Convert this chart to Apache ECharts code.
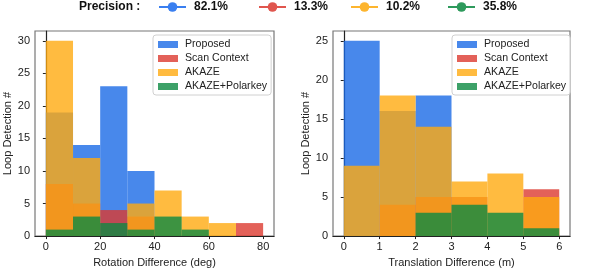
<!DOCTYPE html>
<html><head><meta charset="utf-8">
<script src="https://cdn.jsdelivr.net/npm/echarts@6/dist/echarts.min.js"></script>
<style>html,body{margin:0;padding:0;background:#fff}#c{width:598px;height:273px}</style>
</head><body><div id="c"></div>
<script>
// ---- data ----
var seriesNames = ['Proposed', 'Scan Context', 'AKAZE', 'AKAZE+Polarkey'];
var precisionLabels = ['82.1%', '13.3%', '10.2%', '35.8%'];
var rotBins = [0, 10, 20, 30, 40, 50, 60, 70, 80];
var rotProposed = [19, 14, 23, 10, 0, 0, 0, 0];
var rotScan = [8, 5, 4, 3, 0, 0, 0, 2];
var rotAkaze = [30, 12, 0, 5, 7, 3, 2, 0];
var rotPolar = [1, 3, 2, 1, 3, 1, 0, 0];
var transBins = [0, 1, 2, 3, 4, 5, 6];
var transProposed = [25, 16, 18, 0, 0, 0];
var transScan = [0, 4, 5, 5, 0, 6];
var transAkaze = [9, 18, 14, 7, 8, 5];
var transPolar = [0, 0, 3, 4, 3, 1];
var rotTicks = [0, 20, 40, 60, 80];
var rotYTicks = [0, 5, 10, 15, 20, 25, 30];
var transTicks = [0, 1, 2, 3, 4, 5, 6];
var transYTicks = [0, 5, 10, 15, 20, 25];

// ---- style ----
var colors = ['#1a6ae6', '#dc3a30', '#ffaa10', '#0c8a42'];
var lineColors = ['#3a7ff0', '#e0564e', '#fdb52e', '#2e9a5c'];
var precisionLeft = [158, 258, 350, 447];
var FONT = 'Liberation Sans';

function toData(bins, vals) {
  return vals.map(function (v, i) { return [bins[i], v, bins[i + 1]]; });
}
function renderRect(params, api) {
  var v = api.value(1);
  if (!v) return null;
  var p0 = api.coord([api.value(0), 0]);
  var p1 = api.coord([api.value(2), v]);
  return {
    type: 'rect',
    shape: { x: p0[0], y: p1[1], width: p1[0] - p0[0], height: p0[1] - p1[1] },
    style: api.style()
  };
}
function hist(name, idx, bins, vals, axis) {
  return {
    type: 'custom', name: name, xAxisIndex: axis, yAxisIndex: axis,
    renderItem: renderRect, clip: true,
    encode: { x: [0, 2], y: 1 },
    itemStyle: { color: colors[idx], opacity: 0.8 },
    data: toData(bins, vals)
  };
}

var series = [
  hist(seriesNames[0], 0, rotBins, rotProposed, 0),
  hist(seriesNames[1], 1, rotBins, rotScan, 0),
  hist(seriesNames[2], 2, rotBins, rotAkaze, 0),
  hist(seriesNames[3], 3, rotBins, rotPolar, 0),
  hist(seriesNames[0], 0, transBins, transProposed, 1),
  hist(seriesNames[1], 1, transBins, transScan, 1),
  hist(seriesNames[2], 2, transBins, transAkaze, 1),
  hist(seriesNames[3], 3, transBins, transPolar, 1)
];
precisionLabels.forEach(function (p, i) {
  series.push({
    type: 'line', name: p, xAxisIndex: 0, yAxisIndex: 0, data: [],
    symbol: 'circle', symbolSize: 9,
    lineStyle: { color: lineColors[i], width: 3 },
    itemStyle: { color: lineColors[i] }
  });
});

function xAxis(grid, min, max, ticks, name) {
  return {
    type: 'value', gridIndex: grid, min: min, max: max,
    name: name, nameLocation: 'middle', nameGap: 19,
    nameTextStyle: { fontFamily: FONT, fontSize: 11, color: '#222' },
    axisLine: { show: true, onZero: false, lineStyle: { color: '#222', width: 1.2 } },
    axisTick: { show: true, length: 3, customValues: ticks, lineStyle: { color: '#222' } },
    axisLabel: { customValues: ticks, fontFamily: FONT, fontSize: 11, color: '#222', margin: 5 },
    splitLine: { show: false }
  };
}
function yAxis(grid, max, ticks, gap) {
  return {
    type: 'value', gridIndex: grid, min: 0, max: max,
    name: 'Loop Detection #', nameLocation: 'middle', nameGap: gap, nameRotate: 90,
    nameTextStyle: { fontFamily: FONT, fontSize: 11, color: '#222' },
    axisLine: { show: true, lineStyle: { color: '#222', width: 1.2 } },
    axisTick: { show: true, length: 3, customValues: ticks, lineStyle: { color: '#222' } },
    axisLabel: { customValues: ticks, fontFamily: FONT, fontSize: 11, color: '#222', margin: 5 },
    splitLine: { show: false }
  };
}
function boxLegend(left) {
  return {
    orient: 'vertical', left: left, top: 35, data: seriesNames,
    icon: 'rect', itemWidth: 20, itemHeight: 7, itemGap: 3,
    padding: [4, 4, 3, 5], borderColor: '#d0d0d0', borderWidth: 1, borderRadius: 3,
    backgroundColor: 'rgba(255,255,255,0.85)',
    textStyle: { fontFamily: FONT, fontSize: 10.6, color: '#222', padding: [0, 0, 0, 2] },
    selectedMode: false
  };
}
var legends = precisionLabels.map(function (p, i) {
  return {
    top: 1, left: precisionLeft[i], padding: 0, data: [p], itemWidth: 27, itemHeight: 12,
    textStyle: { fontFamily: FONT, fontSize: 12, fontWeight: 'bold', color: '#111', padding: [0, 0, 0, 3] },
    selectedMode: false
  };
});
legends.push(boxLegend(153), boxLegend(452));

var chart = echarts.init(document.getElementById('c'), null, { renderer: 'canvas' });
chart.setOption({
  animation: false,
  textStyle: { fontFamily: FONT },
  grid: [
    { left: 35, right: 324, top: 31, bottom: 32, show: true, borderColor: '#777', borderWidth: 1.2, backgroundColor: 'transparent' },
    { left: 333, right: 28, top: 31, bottom: 32, show: true, borderColor: '#777', borderWidth: 1.2, backgroundColor: 'transparent' }
  ],
  xAxis: [
    xAxis(0, -4, 84, rotTicks, 'Rotation Difference (deg)'),
    xAxis(1, -0.3, 6.3, transTicks, 'Translation Difference (m)')
  ],
  yAxis: [
    yAxis(0, 31.5, rotYTicks, 20),
    yAxis(1, 26.25, transYTicks, 20)
  ],
  legend: legends,
  graphic: [{
    type: 'text', left: 79, top: 1,
    style: { text: 'Precision :', fontFamily: FONT, fontSize: 12, fontWeight: 'bold', fill: '#111' }
  }],
  series: series
});
</script></body></html>
